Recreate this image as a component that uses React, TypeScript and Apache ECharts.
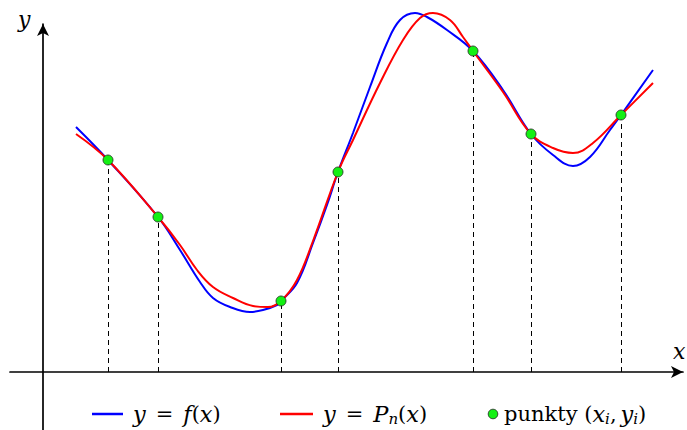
import React, { useEffect, useRef } from "react";
import * as echarts from "echarts";

// Function y = f(x): sampled curve
const fX = [0.33, 0.65, 1.15, 1.37, 1.57, 1.70, 1.87, 2.07, 2.20, 2.34, 2.38, 2.54, 2.70, 2.84, 2.95, 3.10, 3.27, 3.44, 3.57, 3.72, 3.84, 4.04, 4.30, 4.60, 4.88, 5.10, 5.30, 5.47, 5.67, 5.78, 6.10];
const fY = [2.45, 2.12, 1.55, 1.22, 0.90, 0.74, 0.65, 0.60, 0.62, 0.67, 0.71, 0.89, 1.29, 1.67, 2.00, 2.39, 2.85, 3.29, 3.52, 3.59, 3.55, 3.42, 3.21, 2.82, 2.38, 2.17, 2.06, 2.15, 2.42, 2.57, 3.02];

// Interpolating polynomial y = P_n(x)
const pX = [0.33, 0.65, 1.15, 1.37, 1.54, 1.70, 1.90, 2.10, 2.25, 2.38, 2.54, 2.70, 2.95, 3.10, 3.37, 3.60, 3.77, 3.90, 4.07, 4.20, 4.30, 4.60, 4.88, 5.10, 5.30, 5.50, 5.78, 6.10];
const pY = [2.38, 2.12, 1.55, 1.27, 1.02, 0.85, 0.74, 0.66, 0.65, 0.71, 0.92, 1.31, 2.00, 2.32, 2.89, 3.32, 3.54, 3.59, 3.52, 3.35, 3.21, 2.80, 2.38, 2.24, 2.19, 2.29, 2.57, 2.89];

// Interpolation nodes (x_i, y_i)
const nodeX = [0.65, 1.15, 2.38, 2.95, 4.30, 4.88, 5.78];
const nodeY = [2.12, 1.55, 0.71, 2.00, 3.21, 2.38, 2.57];

// Legend labels written as rich-text (italic variables, subscripts)
const labelF = "{i|y}{o|=}{i|f}{r|(}{i|x}{r|)}";
const labelP = "{i|y}{o|=}{i|P}{s|n}{r|(}{i|x}{r|)}";
const labelPts = "{r|punkty (}{i|x}{s|i}{c|,}{i|y}{s|i}{r|)}";

const BLUE = "#0000ff";
const RED = "#ff0000";
const GREEN = "#14f014";
const FONT = "'DejaVu Serif', 'Liberation Serif', serif";
const FS = 21;
const FM = 22.5;

const zip = (xs: number[], ys: number[]) => xs.map((x, i) => [x, ys[i]]);

const rich = {
  r: { fontFamily: FONT, fontSize: FS, fill: "#000", color: "#000" },
  c: { fontFamily: FONT, fontSize: FS, fill: "#000", color: "#000", padding: [0, 4, 0, 0] },
  i: { fontFamily: FONT, fontSize: FM, fontStyle: "italic", fill: "#000", color: "#000" },
  o: { fontFamily: FONT, fontSize: FS, fill: "#000", color: "#000", padding: [0, 10, 0, 10] },
  s: { fontFamily: FONT, fontSize: 15, fontStyle: "italic", fill: "#000", color: "#000", padding: [10, 0, 0, 0] },
};

export default function App() {
  const ref = useRef<HTMLDivElement>(null);

  useEffect(() => {
    if (!ref.current) return;
    const chart = echarts.init(ref.current, null, { renderer: "svg" });

    const axisLine = {
      onZero: true,
      symbol: ["none", "arrow"],
      symbolSize: [9, 12],
      lineStyle: { color: "#000", width: 1.7 },
    };

    const LY = 414; // legend row centre
    const legendText = (x: number, text: string) => ({
      type: "text",
      x,
      y: LY,
      style: { text, rich, verticalAlign: "middle", align: "left", fill: "#000" },
    });

    chart.setOption({
      animation: false,
      backgroundColor: "#fff",
      grid: { left: 10, right: 4, top: 24, bottom: 0, containLabel: false },
      xAxis: {
        type: "value",
        min: -0.33,
        max: 6.4,
        axisLine,
        axisTick: { show: false },
        axisLabel: { show: false },
        splitLine: { show: false },
      },
      yAxis: {
        type: "value",
        min: -0.58,
        max: 3.48,
        axisLine,
        axisTick: { show: false },
        axisLabel: { show: false },
        splitLine: { show: false },
      },
      graphic: [
        {
          type: "text",
          x: 18,
          y: 8,
          style: { text: "y", font: `italic 22px ${FONT}`, fill: "#000" },
        },
        {
          type: "text",
          x: 673,
          y: 340,
          style: { text: "x", font: `italic 22px ${FONT}`, fill: "#000" },
        },
        // legend
        { type: "line", shape: { x1: 92, y1: LY, x2: 123, y2: LY }, style: { stroke: BLUE, lineWidth: 2.5 } },
        legendText(133, labelF),
        { type: "line", shape: { x1: 280, y1: LY, x2: 313, y2: LY }, style: { stroke: RED, lineWidth: 2.5 } },
        legendText(323, labelP),
        { type: "circle", shape: { cx: 493, cy: LY, r: 4.8 }, style: { fill: GREEN, stroke: "#222", lineWidth: 0.8 } },
        legendText(504, labelPts),
      ],
      series: [
        {
          name: "guides",
          type: "line",
          data: [],
          z: 1,
          silent: true,
          markLine: {
            silent: true,
            symbol: "none",
            label: { show: false },
            lineStyle: { color: "#000", width: 1, type: [5, 4] },
            data: nodeX.map((x, i) => [
              { coord: [x, 0] },
              { coord: [x, nodeY[i]] },
            ]),
          },
        },
        {
          name: "y = f(x)",
          type: "line",
          data: zip(fX, fY),
          smooth: 0.4,
          clip: false,
          symbol: "none",
          z: 3,
          lineStyle: { color: BLUE, width: 2 },
        },
        {
          name: "y = P_n(x)",
          type: "line",
          data: zip(pX, pY),
          smooth: 0.4,
          clip: false,
          symbol: "none",
          z: 4,
          lineStyle: { color: RED, width: 2 },
        },
        {
          name: "punkty (x_i, y_i)",
          type: "scatter",
          data: zip(nodeX, nodeY),
          symbolSize: 10,
          z: 5,
          clip: false,
          itemStyle: { color: GREEN, borderColor: "#222", borderWidth: 0.8, opacity: 1 },
        },
      ],
    });

    return () => chart.dispose();
  }, []);

  return <div ref={ref} style={{ width: 687, height: 430, position: "absolute", left: 0, top: 0 }} />;
}
